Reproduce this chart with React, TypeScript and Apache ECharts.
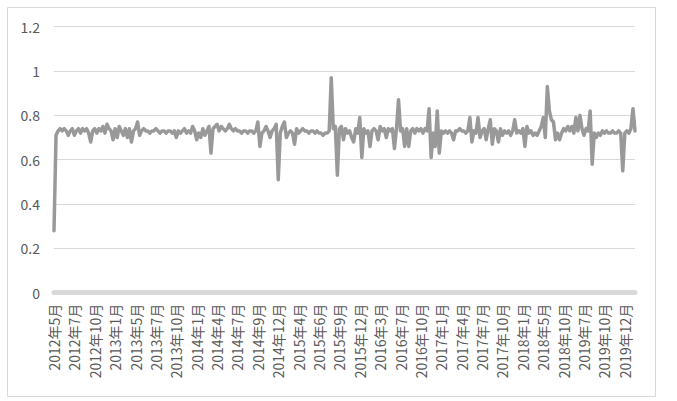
import React, { useEffect, useRef } from "react";
import * as echarts from "echarts";

const tickLabels = [
  "2012年5月", "2012年7月", "2012年10月", "2013年1月", "2013年5月", "2013年7月",
  "2013年10月", "2014年1月", "2014年4月", "2014年7月", "2014年9月", "2014年12月",
  "2015年4月", "2015年6月", "2015年9月", "2015年12月", "2016年3月", "2016年7月",
  "2016年10月", "2017年1月", "2017年4月", "2017年7月", "2017年10月", "2018年1月",
  "2018年5月", "2018年10月", "2019年7月", "2019年10月", "2019年12月",
];
const pointsPerTick = 10;

const seg2012 = [
  0.28, 0.71, 0.73, 0.74, 0.73, 0.74, 0.73, 0.71, 0.73, 0.74,
  0.71, 0.73, 0.74, 0.72, 0.74, 0.73, 0.74, 0.72, 0.68, 0.73,
  0.74, 0.72, 0.74, 0.73, 0.75, 0.72, 0.76, 0.74, 0.73, 0.69,
];
const seg2013 = [
  0.74, 0.70, 0.75, 0.73, 0.71, 0.74, 0.70, 0.74, 0.68, 0.73,
  0.74, 0.77, 0.71, 0.73, 0.74, 0.73, 0.73, 0.72, 0.73, 0.73,
  0.74, 0.73, 0.72, 0.73, 0.73, 0.72, 0.73, 0.73, 0.72, 0.73,
  0.70, 0.73, 0.72, 0.73, 0.74, 0.72, 0.73, 0.72, 0.75, 0.73,
];
const seg2014 = [
  0.69, 0.72, 0.70, 0.74, 0.71, 0.73, 0.75, 0.63, 0.74, 0.75,
  0.76, 0.73, 0.75, 0.74, 0.73, 0.74, 0.76, 0.74, 0.73, 0.74,
  0.73, 0.73, 0.72, 0.73, 0.73, 0.72, 0.73, 0.73, 0.72, 0.73,
  0.77, 0.66, 0.72, 0.73, 0.75, 0.73, 0.70, 0.73, 0.74, 0.76,
  0.51, 0.72, 0.75, 0.77, 0.70, 0.72, 0.73, 0.72, 0.67, 0.74,
];
const seg2015 = [
  0.72, 0.73, 0.74, 0.73, 0.73, 0.72, 0.73, 0.73, 0.72, 0.73,
  0.72, 0.72, 0.71, 0.72, 0.72, 0.73, 0.97, 0.74, 0.75, 0.53,
  0.74, 0.75, 0.69, 0.74, 0.72, 0.73, 0.70, 0.68, 0.74, 0.72,
  0.79, 0.61, 0.74, 0.72, 0.73, 0.66, 0.73, 0.74, 0.73, 0.69,
];
const seg2016 = [
  0.75, 0.73, 0.74, 0.70, 0.74, 0.73, 0.74, 0.65, 0.74, 0.87,
  0.73, 0.74, 0.66, 0.74, 0.66, 0.73, 0.74, 0.72, 0.74, 0.73,
  0.74, 0.72, 0.74, 0.73, 0.83, 0.61, 0.72, 0.66, 0.82, 0.63,
];
const seg2017 = [
  0.73, 0.72, 0.73, 0.72, 0.73, 0.72, 0.69, 0.73, 0.73, 0.74,
  0.73, 0.73, 0.72, 0.73, 0.79, 0.68, 0.73, 0.72, 0.79, 0.70,
  0.73, 0.74, 0.69, 0.74, 0.78, 0.67, 0.74, 0.73, 0.68, 0.74,
  0.71, 0.73, 0.72, 0.73, 0.71, 0.73, 0.78, 0.72, 0.73, 0.72,
];
const seg2018 = [
  0.74, 0.66, 0.75, 0.72, 0.73, 0.71, 0.72, 0.71, 0.73, 0.75,
  0.79, 0.70, 0.93, 0.82, 0.78, 0.77, 0.69, 0.72, 0.69, 0.72,
  0.74, 0.73, 0.75, 0.73, 0.75, 0.72, 0.79, 0.73, 0.80, 0.74,
];
const seg2019 = [
  0.71, 0.74, 0.73, 0.82, 0.58, 0.72, 0.70, 0.72, 0.71, 0.73,
  0.72, 0.73, 0.72, 0.72, 0.73, 0.72, 0.72, 0.73, 0.72, 0.55,
  0.72, 0.73, 0.72, 0.74, 0.83, 0.73,
];

const values = [
  ...seg2012, ...seg2013, ...seg2014, ...seg2015,
  ...seg2016, ...seg2017, ...seg2018, ...seg2019,
];
const categories = values.map(
  (_, i) => tickLabels[Math.min(Math.floor(i / pointsPerTick), tickLabels.length - 1)]
);

const FONT = "'Noto Sans CJK SC', 'Noto Sans', sans-serif";

export default function App() {
  const ref = useRef<HTMLDivElement>(null);
  useEffect(() => {
    if (!ref.current) return;
    const chart = echarts.init(ref.current, undefined, { renderer: "svg" });
    chart.setOption({
      animation: false,
      backgroundColor: "#ffffff",
      graphic: [
        {
          type: "rect",
          shape: { x: 7.5, y: 7.5, width: 648, height: 389 },
          style: { fill: "none", stroke: "#d9d9d9", lineWidth: 1 },
          silent: true,
        },
      ],
      grid: { left: 54, right: 42, top: 26.7, bottom: 108.3, containLabel: false },
      xAxis: {
        type: "category",
        data: categories,
        boundaryGap: false,
        offset: 2,
        axisLine: { show: true, lineStyle: { color: "#d9d9d9", width: 5 } },
        axisTick: { show: false },
        splitLine: { show: false },
        axisLabel: {
          interval: pointsPerTick - 1,
          rotate: 90,
          color: "#595959",
          fontSize: 14,
          margin: 9,
          fontFamily: FONT,
        },
      },
      yAxis: {
        type: "value",
        min: 0,
        max: 1.2,
        interval: 0.2,
        axisLine: { show: false },
        axisTick: { show: false },
        splitLine: { lineStyle: { color: "#d9d9d9", width: 1 } },
        axisLabel: { color: "#595959", fontSize: 14, margin: 14, fontFamily: FONT },
      },
      series: [
        {
          type: "line",
          data: values,
          showSymbol: false,
          symbol: "none",
          lineStyle: { color: "#999999", width: 3.5, cap: "round", join: "round" },
        },
      ],
    });
    return () => chart.dispose();
  }, []);
  return (
    <div
      ref={ref}
      style={{ position: "absolute", left: 0, top: 0, width: 677, height: 401 }}
    />
  );
}
